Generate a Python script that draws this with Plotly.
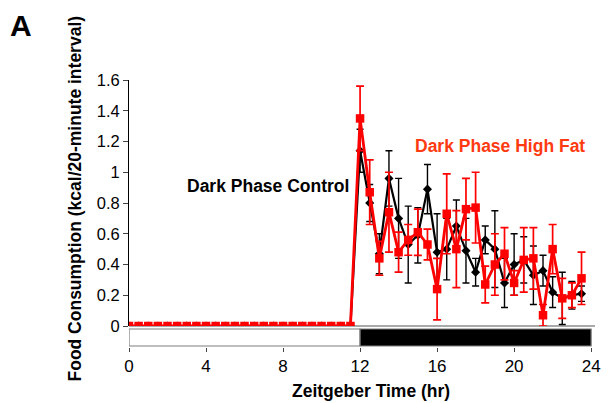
import plotly.graph_objects as go

# ---- data ----
hours = [0, 0.5, 1, 1.5, 2, 2.5, 3, 3.5, 4, 4.5, 5, 5.5,
         6, 6.5, 7, 7.5, 8, 8.5, 9, 9.5, 10, 10.5, 11, 11.5,
         12, 12.5, 13, 13.5, 14, 14.5, 15, 15.5, 16, 16.5, 17, 17.5,
         18, 18.5, 19, 19.5, 20, 20.5, 21, 21.5, 22, 22.5, 23, 23.5]

control_light = [0, 0, 0, 0, 0, 0, 0, 0, 0, 0, 0, 0,
                 0, 0, 0, 0, 0, 0, 0, 0, 0, 0, 0, 0]
control_dark = [1.14, 0.80, 0.47, 0.96, 0.70, 0.53, 0.59, 0.89, 0.48, 0.50, 0.65, 0.49,
                0.35, 0.56, 0.50, 0.28, 0.40, 0.43, 0.33, 0.36, 0.22, 0.18, 0.20, 0.21]
control_err_light = [0, 0, 0, 0, 0, 0, 0, 0, 0, 0, 0, 0,
                     0, 0, 0, 0, 0, 0, 0, 0, 0, 0, 0, 0]
control_err_dark = [0.14, 0.12, 0.13, 0.18, 0.26, 0.25, 0.18, 0.16, 0.25, 0.20, 0.17, 0.21,
                    0.09, 0.09, 0.25, 0.16, 0.20, 0.15, 0.19, 0.10, 0.10, 0.17, 0.09, 0.05]

highfat_light = [0, 0, 0, 0, 0, 0, 0, 0, 0, 0, 0, 0,
                 0, 0, 0, 0, 0, 0, 0, 0, 0, 0, 0, 0]
highfat_dark = [1.35, 0.87, 0.44, 0.74, 0.48, 0.56, 0.61, 0.53, 0.24, 0.73, 0.50, 0.76,
                0.77, 0.27, 0.40, 0.47, 0.28, 0.43, 0.44, 0.07, 0.50, 0.18, 0.20, 0.31]
highfat_err_light = [0, 0, 0, 0, 0, 0, 0, 0, 0, 0, 0, 0,
                     0, 0, 0, 0, 0, 0, 0, 0, 0, 0, 0, 0]
highfat_err_dark = [0.21, 0.21, 0.11, 0.26, 0.13, 0.10, 0.15, 0.10, 0.20, 0.26, 0.25, 0.20,
                    0.23, 0.12, 0.20, 0.17, 0.08, 0.21, 0.20, 0.07, 0.16, 0.13, 0.08, 0.17]

x_ticks = [0, 4, 8, 12, 16, 20, 24]
y_ticks = [0, 0.2, 0.4, 0.6, 0.8, 1, 1.2, 1.4, 1.6]

control = control_light + control_dark
control_err = control_err_light + control_err_dark
highfat = highfat_light + highfat_dark
highfat_err = highfat_err_light + highfat_err_dark

FONT = "Liberation Sans, Arial, sans-serif"
RED = "#ff0000"
RED_TEXT = "#ff3a10"

# ---- figure geometry (pixels) ----
W, H = 613, 403
L, R, T, B = 129, 18, 80, 56
plot_h = H - T - B          # 267
y0_px = 326                 # pixel row of y = 0
dom_bottom = (H - B - y0_px) / plot_h
plot_w = W - L - R


def px_x(px):
    return (px - L) / plot_w


def px_y(py):
    return (H - B - py) / plot_h


fig = go.Figure()

fig.add_trace(go.Scatter(
    x=hours, y=control, mode="lines+markers",
    line=dict(color="black", width=2.2),
    marker=dict(symbol="diamond", size=7, color="black"),
    error_y=dict(type="data", array=control_err, visible=True,
                 color="black", thickness=1.4, width=3.5),
    showlegend=False,
))
fig.add_trace(go.Scatter(
    x=hours, y=highfat, mode="lines+markers",
    line=dict(color=RED, width=2.8),
    marker=dict(symbol="square", size=8.5, color=RED),
    error_y=dict(type="data", array=highfat_err, visible=True,
                 color=RED, thickness=1.7, width=4),
    showlegend=False,
))

# light / dark bar under the axis
bar_top = px_y(329)
bar_bot = px_y(346)
fig.add_shape(type="rect", xref="x", yref="paper", x0=0, x1=12, y0=bar_bot, y1=bar_top,
              fillcolor="white", line=dict(color="#7f7f7f", width=1.2))
fig.add_shape(type="rect", xref="x", yref="paper", x0=12, x1=24, y0=bar_bot, y1=bar_top,
              fillcolor="black", line=dict(color="#7f7f7f", width=1.2))
# y = 0 baseline
fig.add_shape(type="line", xref="paper", yref="paper", x0=0, x1=1,
              y0=dom_bottom, y1=dom_bottom, line=dict(color="#555555", width=1), layer="below")

fig.update_layout(
    width=W, height=H,
    margin=dict(l=L, r=R, t=T, b=B, pad=0),
    paper_bgcolor="white", plot_bgcolor="rgba(0,0,0,0)",
    font=dict(family=FONT, size=17, color="black"),
    xaxis=dict(range=[0, 24.2], tickvals=x_ticks, ticktext=[str(v) for v in x_ticks],
               anchor="free", position=0, showline=False, zeroline=False, showgrid=False,
               ticks="outside", ticklen=4, tickcolor="#444", tickwidth=1,
               tickfont=dict(size=17)),
    yaxis=dict(range=[0, 1.6], tickvals=y_ticks, ticktext=[f"{v:g}" for v in y_ticks],
               domain=[dom_bottom, 1], anchor="x", showline=True, linecolor="black",
               linewidth=1, zeroline=False, showgrid=False,
               ticks="outside", ticklen=5, tickcolor="#444", tickwidth=1,
               tickfont=dict(size=16.5)),
    annotations=[
        dict(text="<b>A</b>", xref="paper", yref="paper", x=px_x(21), y=px_y(26),
             showarrow=False, font=dict(size=30, color="black"),
             xanchor="center", yanchor="middle"),
        dict(text="<b>Dark Phase Control</b>", xref="paper", yref="paper",
             x=px_x(267.5), y=px_y(186), showarrow=False,
             font=dict(size=17.5, color="black"), xanchor="center", yanchor="middle"),
        dict(text="<b>Dark Phase High Fat</b>", xref="paper", yref="paper",
             x=px_x(500), y=px_y(146), showarrow=False,
             font=dict(size=17.5, color=RED_TEXT), xanchor="center", yanchor="middle"),
        dict(text="<b>Food Consumption (kcal/20-minute interval)</b>", xref="paper",
             yref="paper", x=px_x(74), y=px_y(198.5), showarrow=False, textangle=-90,
             font=dict(size=17.5, color="black"), xanchor="center", yanchor="middle"),
        dict(text="<b>Zeitgeber Time (hr)</b>", xref="paper", yref="paper",
             x=px_x(371), y=px_y(391), showarrow=False,
             font=dict(size=17.5, color="black"), xanchor="center", yanchor="middle"),
    ],
)

fig.write_html("out.html")
